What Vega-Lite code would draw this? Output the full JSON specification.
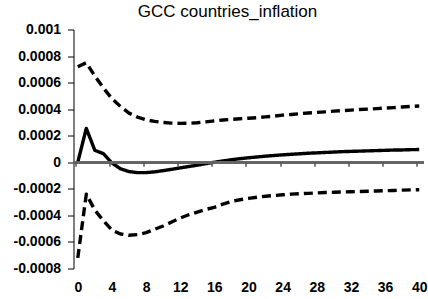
{
  "$schema": "https://vega.github.io/schema/vega-lite/v6.json",
  "width": 350,
  "height": 239,
  "autosize": "none",
  "padding": {"left": 73.5, "top": 29.5, "right": 4.5, "bottom": 30.5},
  "background": "white",
  "config": {"view": {"stroke": null}},
  "title": {"text": "GCC countries_inflation", "font": "Liberation Sans", "fontSize": 17, "fontWeight": "normal", "color": "black", "anchor": "middle", "frame": "group", "dx": -21, "baseline": "alphabetic", "offset": -11},
  "datasets": {
    "irf": [
      {"h":0,"band":"response","v":0},{"h":1,"band":"response","v":0.000255},{"h":2,"band":"response","v":0.00009},{"h":3,"band":"response","v":0.000065},{"h":4,"band":"response","v":-0.000005},{"h":5,"band":"response","v":-0.000049},{"h":6,"band":"response","v":-0.00007},{"h":7,"band":"response","v":-0.000078},{"h":8,"band":"response","v":-0.000078},{"h":9,"band":"response","v":-0.000072},{"h":10,"band":"response","v":-0.000063},{"h":11,"band":"response","v":-0.000053},{"h":12,"band":"response","v":-0.000042},{"h":13,"band":"response","v":-0.000032},{"h":14,"band":"response","v":-0.000022},{"h":15,"band":"response","v":-0.00001},{"h":16,"band":"response","v":0},{"h":17,"band":"response","v":0.00001},{"h":18,"band":"response","v":0.000019},{"h":19,"band":"response","v":0.000027},{"h":20,"band":"response","v":0.000034},{"h":21,"band":"response","v":0.00004},{"h":22,"band":"response","v":0.000046},{"h":23,"band":"response","v":0.000051},{"h":24,"band":"response","v":0.000056},{"h":25,"band":"response","v":0.00006},{"h":26,"band":"response","v":0.000064},{"h":27,"band":"response","v":0.000068},{"h":28,"band":"response","v":0.000071},{"h":29,"band":"response","v":0.000074},{"h":30,"band":"response","v":0.000077},{"h":31,"band":"response","v":0.00008},{"h":32,"band":"response","v":0.000082},{"h":33,"band":"response","v":0.000084},{"h":34,"band":"response","v":0.000086},{"h":35,"band":"response","v":0.000088},{"h":36,"band":"response","v":0.00009},{"h":37,"band":"response","v":0.000092},{"h":38,"band":"response","v":0.000093},{"h":39,"band":"response","v":0.000095},{"h":40,"band":"response","v":0.000096},
      {"h":0,"band":"upper","v":0.00072},{"h":1,"band":"upper","v":0.00075},{"h":2,"band":"upper","v":0.00065},{"h":3,"band":"upper","v":0.00056},{"h":4,"band":"upper","v":0.00048},{"h":5,"band":"upper","v":0.00042},{"h":6,"band":"upper","v":0.00037},{"h":7,"band":"upper","v":0.00034},{"h":8,"band":"upper","v":0.00032},{"h":9,"band":"upper","v":0.000308},{"h":10,"band":"upper","v":0.0003},{"h":11,"band":"upper","v":0.000295},{"h":12,"band":"upper","v":0.000293},{"h":13,"band":"upper","v":0.000294},{"h":14,"band":"upper","v":0.000298},{"h":15,"band":"upper","v":0.000304},{"h":16,"band":"upper","v":0.000312},{"h":17,"band":"upper","v":0.000318},{"h":18,"band":"upper","v":0.000323},{"h":19,"band":"upper","v":0.000328},{"h":20,"band":"upper","v":0.000332},{"h":21,"band":"upper","v":0.000336},{"h":22,"band":"upper","v":0.000342},{"h":23,"band":"upper","v":0.000348},{"h":24,"band":"upper","v":0.000355},{"h":25,"band":"upper","v":0.00036},{"h":26,"band":"upper","v":0.000366},{"h":27,"band":"upper","v":0.000371},{"h":28,"band":"upper","v":0.000376},{"h":29,"band":"upper","v":0.00038},{"h":30,"band":"upper","v":0.000385},{"h":31,"band":"upper","v":0.000389},{"h":32,"band":"upper","v":0.000393},{"h":33,"band":"upper","v":0.000397},{"h":34,"band":"upper","v":0.0004},{"h":35,"band":"upper","v":0.000404},{"h":36,"band":"upper","v":0.000408},{"h":37,"band":"upper","v":0.000412},{"h":38,"band":"upper","v":0.000416},{"h":39,"band":"upper","v":0.00042},{"h":40,"band":"upper","v":0.000424},
      {"h":0,"band":"lower","v":-0.00072},{"h":1,"band":"lower","v":-0.00024},{"h":2,"band":"lower","v":-0.00036},{"h":3,"band":"lower","v":-0.00044},{"h":4,"band":"lower","v":-0.00051},{"h":5,"band":"lower","v":-0.00054},{"h":6,"band":"lower","v":-0.00055},{"h":7,"band":"lower","v":-0.000545},{"h":8,"band":"lower","v":-0.00053},{"h":9,"band":"lower","v":-0.000505},{"h":10,"band":"lower","v":-0.00048},{"h":11,"band":"lower","v":-0.00045},{"h":12,"band":"lower","v":-0.00042},{"h":13,"band":"lower","v":-0.000395},{"h":14,"band":"lower","v":-0.000375},{"h":15,"band":"lower","v":-0.000355},{"h":16,"band":"lower","v":-0.00034},{"h":17,"band":"lower","v":-0.000315},{"h":18,"band":"lower","v":-0.000295},{"h":19,"band":"lower","v":-0.000282},{"h":20,"band":"lower","v":-0.000272},{"h":21,"band":"lower","v":-0.000263},{"h":22,"band":"lower","v":-0.000256},{"h":23,"band":"lower","v":-0.00025},{"h":24,"band":"lower","v":-0.000245},{"h":25,"band":"lower","v":-0.00024},{"h":26,"band":"lower","v":-0.000237},{"h":27,"band":"lower","v":-0.000234},{"h":28,"band":"lower","v":-0.000231},{"h":29,"band":"lower","v":-0.000228},{"h":30,"band":"lower","v":-0.000226},{"h":31,"band":"lower","v":-0.000224},{"h":32,"band":"lower","v":-0.000222},{"h":33,"band":"lower","v":-0.00022},{"h":34,"band":"lower","v":-0.000218},{"h":35,"band":"lower","v":-0.000216},{"h":36,"band":"lower","v":-0.000214},{"h":37,"band":"lower","v":-0.000212},{"h":38,"band":"lower","v":-0.00021},{"h":39,"band":"lower","v":-0.000208},{"h":40,"band":"lower","v":-0.000207}
    ]
  },
  "data": {"name": "irf"},
  "layer": [
    {
      "mark": {"type": "line", "color": "black", "strokeWidth": 3.4, "strokeJoin": "round"},
      "encoding": {
        "x": {"field": "h", "type": "quantitative", "scale": {"domain": [-0.5, 40.5], "nice": false, "zero": false},
          "axis": {"orient": "bottom", "offset": -106.2, "zindex": 1, "title": null, "grid": false, "domain": false, "ticks": true, "values": [-0.3,3.7,7.7,11.7,15.7,19.7,23.7,27.7,31.7,35.7,39.7], "labelExpr": "toString(round(datum.value))", "labelOffset": 2.56, "labelPadding": 114, "labelFont": "Liberation Sans", "labelFontWeight": "bold", "labelFontSize": 14, "labelColor": "black", "labelFlush": false, "labelOverlap": false, "tickColor": "#555555", "tickSize": 4, "tickWidth": 1.5}},
        "y": {"field": "v", "type": "quantitative", "scale": {"domain": [-0.0008, 0.001], "nice": false, "zero": false},
          "axis": {"title": null, "values": [-0.0008,-0.0006,-0.0004,-0.0002,0,0.0002,0.0004,0.0006,0.0008,0.001], "labelExpr": "replace(format(datum.value, '~g'), '\u2212', '-')", "labelOverlap": false, "grid": false, "domainColor": "black", "domainWidth": 1, "tickColor": "black", "tickSize": 6, "labelPadding": 7, "labelFont": "Liberation Sans", "labelFontWeight": "bold", "labelFontSize": 14, "labelColor": "black", "labelFlush": false}},
        "detail": {"field": "band"},
        "strokeDash": {"field": "band", "type": "nominal", "scale": {"domain": ["response", "upper", "lower"], "range": [[1, 0], [9, 5], [9, 5]]}, "legend": null}
      }
    },
    {
      "mark": {"type": "rule", "color": "#666666", "strokeWidth": 2},
      "encoding": {
        "y": {"datum": 0, "type": "quantitative",
          "axis": {"title": null, "values": [-0.0008,-0.0006,-0.0004,-0.0002,0,0.0002,0.0004,0.0006,0.0008,0.001], "labelExpr": "replace(format(datum.value, '~g'), '\u2212', '-')", "labelOverlap": false, "grid": false, "domainColor": "black", "domainWidth": 1, "tickColor": "black", "tickSize": 6, "labelPadding": 7, "labelFont": "Liberation Sans", "labelFontWeight": "bold", "labelFontSize": 14, "labelColor": "black", "labelFlush": false}}
      }
    }
  ]
}
